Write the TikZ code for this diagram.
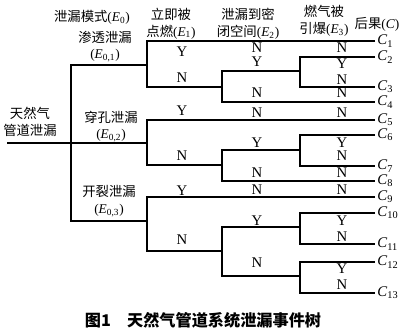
\documentclass[tikz,border=0pt]{standalone}
\usepackage{fontspec}
\setmainfont{Liberation Serif}
\newfontfamily\cjk{Noto Sans CJK SC}
\usetikzlibrary{positioning}
\newcommand{\zh}[1]{{\cjk #1}}
\newcommand{\Ev}[1]{\textit{E}\textsubscript{#1}}

\begin{document}
\begin{tikzpicture}[
  x=0.25mm,y=-0.25mm,
  every node/.style={align=center, inner sep=1pt},
  head/.style={font=\fontsize{9.5}{12}\selectfont},
  yn/.style={font=\fontsize{10.5}{12}\selectfont},
  cname/.style={anchor=west, inner sep=1.5pt, font=\fontsize{10.5}{12}\selectfont},
  br/.style={line width=.75pt},
  capt/.style={font=\fontsize{11.5}{13}\selectfont\cjk\bfseries}
]
\path[use as bounding box] (0,0) rectangle (400,329);

% column heads
\node[head] (mode) at (92,17) {\zh{泄漏模式}(\Ev{0})};
\node[head] (e1h) at (171,23.5) {\zh{立即被}\\\zh{点燃}(\Ev{1})};
\node[head] (e2h) at (248,23.5) {\zh{泄漏到密}\\\zh{闭空间}(\Ev{2})};
\node[head] (e3h) at (324,21) {\zh{燃气被}\\\zh{引爆}(\Ev{3})};
\node[head] (ch) at (377,24) {\zh{后果}(\textit{C})};

% leak modes
\node[head] (src) at (30,122) {\zh{天然气}\\\zh{管道泄漏}};
\node[head] (e01) at (105,46.5) {\zh{渗透泄漏}\\(\Ev{0,1})};
\node[head] (e02) at (111,126.5) {\zh{穿孔泄漏}\\(\Ev{0,2})};
\node[head] (e03) at (109,201) {\zh{开裂泄漏}\\(\Ev{0,3})};

% branch points
\coordinate (start) at (7,143);
\coordinate (s0) at (71,143);
\coordinate (s1a) at (147,65);
\coordinate (s1b) at (147,143);
\coordinate (s1c) at (147,221);
\coordinate (s2a) at (222,87);
\coordinate (s2b) at (222,165);
\coordinate (s2c) at (222,251);
\coordinate (s3a) at (300,71);
\coordinate (s3b) at (300,150);
\coordinate (s3c) at (300,227);
\coordinate (s3d) at (300,276);

% outcomes
\foreach \y [count=\i] in {41,57,87,102,120,135,166,181,197,213,244,262,293}
  \node[cname] (c\i) at (375,\y) {\textit{C}\textsubscript{\i}};

\draw[br] (start) -- (s1b);
\draw[br] (s1a) -| (s0) |- (s1c);
\draw[br] (c1.west) -| (s1a) |- (s2a);
\draw[br] (s3a) -| (s2a) |- (c4.west);
\draw[br] (c2.west) -| (s3a) |- (c3.west);
\draw[br] (c5.west) -| (s1b) |- (s2b);
\draw[br] (s3b) -| (s2b) |- (c8.west);
\draw[br] (c6.west) -| (s3b) |- (c7.west);
\draw[br] (c9.west) -| (s1c) |- (s2c);
\draw[br] (s3c) -| (s2c) |- (s3d);
\draw[br] (c10.west) -| (s3c) |- (c11.west);
\draw[br] (c12.west) -| (s3d) |- (c13.west);

% Y/N labels
\foreach \t/\y [count=\i] in {Y/52,N/78,Y/111,N/156,Y/191,N/240}
  \node[yn] (ea\i) at (182,\y) {\t};
\foreach \t/\y [count=\i] in {N/48,Y/62,N/93,N/113,Y/143,N/173,N/190,Y/221,N/263}
  \node[yn] (eb\i) at (257,\y) {\t};
\foreach \t/\y [count=\i] in {N/48,Y/64,N/80,N/93,N/113,Y/143,N/156,N/173,N/190,Y/221,N/237,Y/269,N/285}
  \node[yn] (ec\i) at (342,\y) {\t};

\node[capt] (title) at (203,320) {图1\quad 天然气管道系统泄漏事件树};
\end{tikzpicture}
\end{document}
